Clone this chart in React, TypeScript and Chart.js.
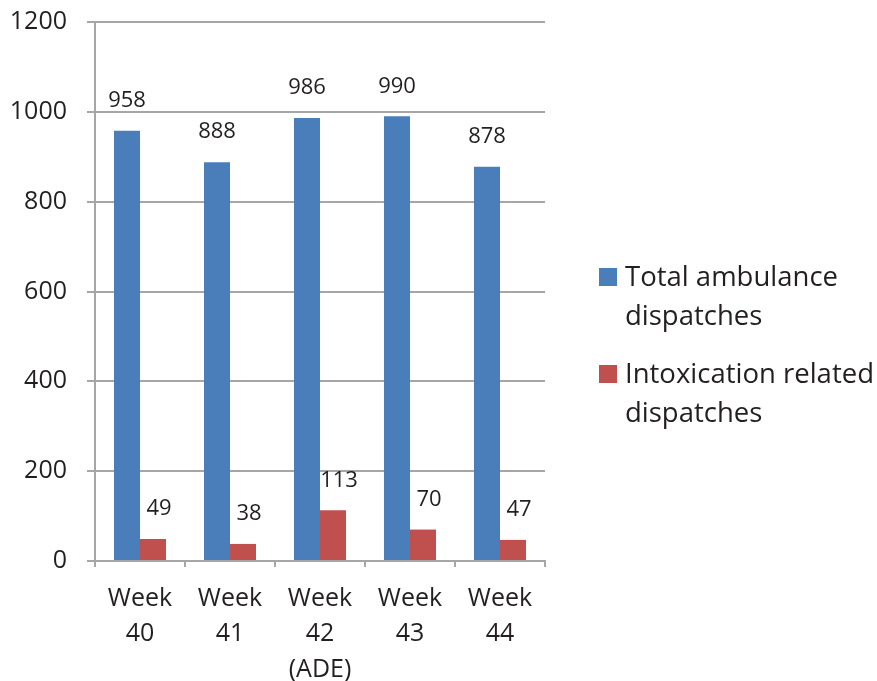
import React, { useEffect, useRef } from "react";
import { Chart, registerables } from "chart.js";

Chart.register(...registerables);

const weeks: string[][] = [
  ["Week", "40"],
  ["Week", "41"],
  ["Week", "42", "(ADE)"],
  ["Week", "43"],
  ["Week", "44"],
];
const totalDispatches = [958, 888, 986, 990, 878];
const intoxicationDispatches = [49, 38, 113, 70, 47];
const seriesNames = [
  ["Total ambulance", "dispatches"],
  ["Intoxication related", "dispatches"],
];
const seriesColors = ["#4a7ebb", "#c0504d"];
const yTicks = [0, 200, 400, 600, 800, 1000, 1200];

const FONT = "'Open Sans', 'DejaVu Sans', sans-serif";
const TEXT = "#231f20";
const GRID = "#a6a6a6";

// Value labels above each bar
const valueLabels = {
  id: "valueLabels",
  afterDatasetsDraw(chart: any) {
    const ctx = chart.ctx;
    ctx.save();
    ctx.font = `22px ${FONT}`;
    ctx.fillStyle = TEXT;
    ctx.textAlign = "center";
    ctx.textBaseline = "middle";
    chart.data.datasets.forEach((ds: any, di: number) => {
      const meta = chart.getDatasetMeta(di);
      const dx = di === 1 ? 6 : 0;
      meta.data.forEach((bar: any, i: number) => {
        ctx.fillText(String(ds.data[i]), bar.x + dx, bar.y - 30);
      });
    });
    ctx.restore();
  },
};

// Two-line legend to the right of the plot
const sideLegend = {
  id: "sideLegend",
  afterDraw(chart: any) {
    const ctx = chart.ctx;
    ctx.save();
    ctx.font = `27.5px ${FONT}`;
    ctx.fillStyle = TEXT;
    ctx.textAlign = "left";
    ctx.textBaseline = "alphabetic";
    const baselines = [286, 383];
    seriesNames.forEach((lines, i) => {
      const base = baselines[i];
      ctx.fillStyle = seriesColors[i];
      ctx.fillRect(599, base - 18, 18, 18);
      ctx.fillStyle = TEXT;
      lines.forEach((line, j) => {
        ctx.fillText(line, 625, base + j * 38.5);
      });
    });
    ctx.restore();
  },
};

export default function App() {
  const canvasRef = useRef<HTMLCanvasElement | null>(null);

  useEffect(() => {
    if (!canvasRef.current) return;
    const chart = new Chart(canvasRef.current, {
      type: "bar",
      data: {
        labels: weeks,
        datasets: [
          {
            label: seriesNames[0].join(" "),
            data: totalDispatches,
            backgroundColor: seriesColors[0],
          },
          {
            label: seriesNames[1].join(" "),
            data: intoxicationDispatches,
            backgroundColor: seriesColors[1],
          },
        ],
      },
      options: {
        animation: false,
        responsive: false,
        maintainAspectRatio: false,
        layout: { padding: { top: 22, right: 332, left: 0, bottom: 0 } },
        plugins: {
          legend: { display: false },
          tooltip: { enabled: false },
          title: { display: false },
        },
        datasets: {
          bar: { categoryPercentage: 0.578, barPercentage: 1 },
        },
        scales: {
          x: {
            offset: true,
            grid: {
              offset: true,
              drawOnChartArea: false,
              drawTicks: true,
              tickLength: 6,
              color: GRID,
              lineWidth: 2,
            },
            border: { display: true, color: GRID, width: 2 },
            ticks: {
              color: TEXT,
              font: { family: FONT, size: 25, lineHeight: 1.42 },
              padding: 14,
              maxRotation: 0,
              autoSkip: false,
            },
            afterFit(scale: any) {
              scale.height = 120;
              scale.paddingLeft = 0;
              scale.paddingRight = 0;
            },
          },
          y: {
            min: 0,
            max: 1200,
            afterBuildTicks(scale: any) {
              scale.ticks = yTicks.map((v) => ({ value: v }));
            },
            grid: {
              color: GRID,
              lineWidth: 2,
              drawTicks: true,
              tickLength: 8,
            },
            border: { display: true, color: GRID, width: 2 },
            ticks: {
              color: TEXT,
              font: { family: FONT, size: 25 },
              padding: 20,
              callback: (v: any) => String(v),
            },
            afterFit(scale: any) {
              scale.width = 95;
              scale.paddingTop = 0;
              scale.paddingBottom = 0;
            },
          },
        },
      },
      plugins: [valueLabels, sideLegend],
    });
    return () => chart.destroy();
  }, []);

  return (
    <div style={{ position: "fixed", left: 0, top: 0, width: 877, height: 681, background: "#fff" }}>
      <canvas ref={canvasRef} width={877} height={681} style={{ width: 877, height: 681 }} />
    </div>
  );
}
